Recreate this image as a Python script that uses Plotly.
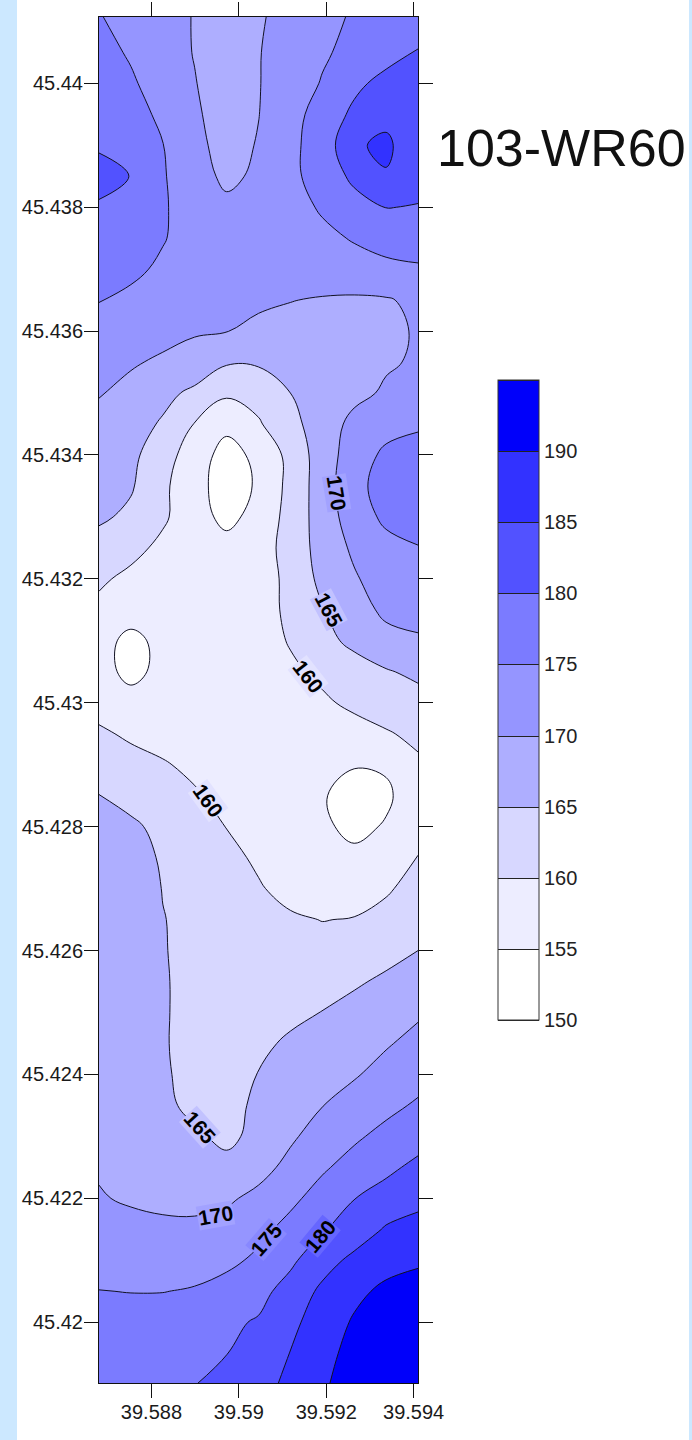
import plotly.graph_objects as go

# ---------------- data ----------------
x_vals = [39.5868, 39.58753, 39.58826, 39.58899, 39.58972, 39.59045,
          39.59118, 39.59191, 39.59264, 39.59337, 39.5941]

y_vals = [45.4190, 45.4195, 45.4200, 45.4205, 45.4210, 45.4215, 45.4220,
          45.4225, 45.4230, 45.4235, 45.4240, 45.4245, 45.4250, 45.4255,
          45.4260, 45.4265, 45.4270, 45.4275, 45.4280, 45.4285, 45.4290,
          45.4295, 45.4300, 45.4305, 45.4310, 45.4315, 45.4320, 45.4325,
          45.4330, 45.4335, 45.4340, 45.4345, 45.4350, 45.4355, 45.4360,
          45.4365, 45.4370, 45.4375, 45.4380, 45.4385, 45.4390, 45.4395,
          45.4400, 45.4405, 45.4411]

# rows from bottom (45.419) to top (45.4411), columns west -> east
z_vals = [
    [177.8, 178.3, 179.0, 179.9, 181.5, 183.6, 185.9, 189.4, 192.0, 194.0, 194.8],
    [177.2, 177.8, 178.5, 179.2, 179.9, 182.5, 185.1, 188.5, 191.5, 193.5, 194.3],
    [176.5, 176.8, 177.3, 178.0, 179.2, 180.4, 183.8, 187.4, 190.5, 192.5, 193.5],
    [175.1, 174.9, 174.9, 175.4, 176.8, 178.6, 181.8, 186.0, 188.9, 191.0, 192.0],
    [173.0, 172.8, 172.8, 173.0, 173.9, 175.9, 179.1, 183.0, 186.2, 188.3, 189.3],
    [171.5, 171.3, 170.9, 170.9, 171.8, 173.8, 176.4, 179.6, 182.2, 185.5, 187.3],
    [170.3, 169.5, 169.0, 168.8, 169.3, 171.2, 174.0, 176.8, 179.9, 182.0, 183.2],
    [169.6, 168.7, 167.7, 166.8, 166.0, 168.4, 171.3, 174.4, 176.7, 178.9, 181.2],
    [169.4, 168.3, 166.8, 165.5, 164.2, 166.0, 169.3, 172.0, 174.3, 176.3, 178.0],
    [169.2, 167.8, 165.7, 164.2, 163.8, 165.7, 167.8, 169.9, 171.8, 173.8, 175.6],
    [169.0, 167.5, 165.4, 164.0, 163.7, 165.1, 166.7, 168.3, 169.6, 171.5, 173.3],
    [168.8, 167.3, 165.2, 164.2, 163.9, 164.2, 165.6, 167.0, 168.5, 169.6, 171.3],
    [168.7, 167.3, 165.2, 164.3, 164.0, 163.8, 164.1, 165.1, 166.5, 168.0, 169.4],
    [168.5, 167.2, 165.2, 164.3, 163.8, 163.2, 162.8, 163.3, 164.4, 165.8, 167.5],
    [168.3, 167.0, 165.15, 164.2, 163.5, 162.6, 161.9, 161.5, 162.0, 163.5, 165.0],
    [168.3, 167.2, 165.1, 164.2, 163.2, 161.8, 160.6, 159.9, 160.2, 161.3, 163.0],
    [168.0, 167.0, 164.9, 163.7, 162.3, 160.4, 158.6, 157.9, 158.0, 159.5, 161.5],
    [167.5, 166.5, 164.6, 163.0, 161.2, 159.3, 158.0, 157.2, 156.3, 157.5, 160.1],
    [166.8, 165.8, 163.8, 162.0, 159.9, 158.3, 157.0, 156.0, 153.5, 155.5, 158.8],
    [165.1, 163.5, 162.0, 160.5, 158.7, 157.5, 156.5, 155.4, 153.0, 154.0, 158.5],
    [162.5, 161.5, 160.4, 159.0, 158.0, 157.3, 156.8, 156.3, 155.3, 155.7, 159.3],
    [160.7, 159.3, 158.3, 157.5, 157.2, 157.2, 157.5, 157.8, 158.5, 159.6, 161.0],
    [158.3, 157.0, 156.8, 157.0, 157.2, 157.8, 158.5, 159.4, 160.8, 162.2, 163.3],
    [157.0, 153.5, 156.5, 157.2, 157.5, 158.2, 159.3, 160.8, 162.8, 164.6, 166.0],
    [157.0, 153.5, 156.5, 157.0, 157.2, 158.2, 160.3, 163.5, 166.2, 168.5, 169.3],
    [158.8, 157.5, 157.0, 157.0, 157.0, 158.0, 161.0, 164.7, 168.0, 171.0, 172.0],
    [160.8, 158.8, 157.6, 157.3, 157.0, 157.8, 161.2, 166.3, 169.5, 172.3, 173.5],
    [163.0, 161.5, 158.8, 157.5, 156.5, 157.8, 161.8, 167.0, 170.8, 173.5, 174.8],
    [165.8, 164.0, 160.8, 156.8, 153.8, 156.5, 161.8, 167.3, 172.5, 176.0, 177.0],
    [166.8, 165.5, 161.0, 156.5, 153.0, 155.5, 161.5, 167.5, 173.5, 177.0, 178.0],
    [167.5, 166.0, 162.5, 157.0, 153.5, 156.0, 161.5, 167.5, 172.5, 176.0, 177.0],
    [168.5, 166.5, 164.6, 159.8, 156.0, 159.5, 163.5, 167.5, 171.3, 173.2, 174.3],
    [170.3, 168.7, 166.0, 164.2, 160.8, 161.8, 165.0, 167.0, 168.8, 170.6, 172.0],
    [172.5, 170.5, 169.3, 167.5, 165.5, 165.6, 166.8, 167.8, 168.5, 169.5, 170.5],
    [173.8, 172.5, 171.5, 170.6, 170.1, 169.2, 168.8, 168.5, 168.5, 169.0, 170.4],
    [175.1, 174.0, 172.8, 171.8, 171.0, 170.6, 170.1, 169.7, 169.4, 169.6, 171.0],
    [177.3, 176.0, 174.2, 172.8, 171.8, 171.5, 171.5, 172.2, 173.0, 174.0, 174.5],
    [178.6, 177.0, 175.3, 173.0, 171.5, 171.3, 172.3, 173.8, 175.4, 176.6, 177.0],
    [179.5, 177.8, 175.4, 173.2, 171.0, 171.0, 173.0, 175.6, 178.3, 180.1, 179.8],
    [181.5, 179.9, 175.4, 172.0, 169.0, 170.8, 173.8, 177.2, 181.0, 184.6, 181.5],
    [179.5, 177.3, 175.1, 171.3, 168.2, 170.3, 174.0, 177.0, 184.3, 186.0, 181.5],
    [178.3, 176.5, 174.2, 170.7, 167.8, 169.9, 173.3, 177.0, 181.0, 183.6, 182.0],
    [177.5, 175.6, 172.9, 170.2, 167.5, 169.8, 172.5, 175.3, 178.9, 181.5, 182.0],
    [176.5, 174.5, 172.0, 169.8, 167.5, 169.8, 172.0, 174.4, 176.3, 178.2, 180.1],
    [175.2, 173.3, 171.5, 169.8, 167.5, 169.5, 171.5, 173.5, 175.5, 177.5, 179.0],
]

levels_start, levels_end, levels_step = 150, 195, 5
band_colors = ['#FFFFFF', '#EDEDFF', '#D7D7FF', '#AEAEFF', '#9595FF',
               '#7B7BFF', '#5252FF', '#3232FF', '#0000FA']
cbar_ticks = [150, 155, 160, 165, 170, 175, 180, 185, 190]

x_ticks = [39.588, 39.590, 39.592, 39.594]
x_ticktext = ['39.588', '39.59', '39.592', '39.594']
y_ticks = [45.420, 45.422, 45.424, 45.426, 45.428, 45.430,
           45.432, 45.434, 45.436, 45.438, 45.440]
y_ticktext = ['45.42', '45.422', '45.424', '45.426', '45.428', '45.43',
              '45.432', '45.434', '45.436', '45.438', '45.44']

# contour labels: text, x, y, angle
label_text = ['170', '165', '160', '160', '165', '170', '175', '180']
label_x = [39.59223, 39.59205, 39.59159, 39.58930, 39.58911, 39.58946, 39.59063, 39.59186]
label_y = [45.43339, 45.43150, 45.43043, 45.42843, 45.42314, 45.42173, 45.42133, 45.42138]
label_angle = [81, 62, 52, 54, 48, -10, -49, -50]
label_bg = ['#A2A2FF', '#C2C2FF', '#E2E2FF', '#E2E2FF', '#C2C2FF', '#A2A2FF', '#8888FF', '#6666FF']

title_text = '103-WR60'

# ---------------- figure ----------------
FONT = 'Liberation Sans, Arial, sans-serif'

# fill colours for the map: contour fills are sampled at band mid-levels,
# over the domain [start - step/2, end + step/2]
zmin_f = levels_start - levels_step / 2
zmax_f = levels_end + levels_step / 2
span_f = zmax_f - zmin_f
fill_scale = [[0.0, band_colors[0]]]
for i, c in enumerate(band_colors):
    lo = (levels_start + i * levels_step - zmin_f) / span_f
    hi = (levels_start + (i + 1) * levels_step - zmin_f) / span_f
    fill_scale.append([lo, c])
    fill_scale.append([hi, c])
fill_scale.append([1.0, band_colors[-1]])

# stepped scale for the colour bar over [start, end]
nb = len(band_colors)
bar_scale = []
for i, c in enumerate(band_colors):
    bar_scale.append([i / nb, c])
    bar_scale.append([(i + 1) / nb, c])

fig = go.Figure()
fig.add_trace(go.Contour(
    x=x_vals, y=y_vals, z=z_vals,
    zmin=zmin_f, zmax=zmax_f, zauto=False,
    colorscale=fill_scale, showscale=False,
    contours=dict(start=levels_start, end=levels_end, size=levels_step,
                  coloring='fill', showlines=True),
    line=dict(color='#111122', width=1, smoothing=1.1),
    hoverinfo='skip',
))

# same field, invisible, only used to draw the stepped colour bar 150-195
fig.add_trace(go.Contour(
    x=x_vals, y=y_vals, z=z_vals,
    zmin=levels_start, zmax=levels_end, zauto=False,
    colorscale=bar_scale, opacity=0,
    contours=dict(start=levels_start, end=levels_end, size=levels_step,
                  coloring='heatmap', showlines=True),
    line=dict(color='#222222', width=1),
    colorbar=dict(
        tickvals=cbar_ticks, ticks='', len=640, lenmode='pixels',
        thickness=41, thicknessmode='pixels',
        x=1.2498, xanchor='left', xpad=0, y=0.5, yanchor='middle', ypad=0,
        outlinewidth=1, outlinecolor='#333333',
        tickfont=dict(family=FONT, size=20, color='#222222'),
    ),
    hoverinfo='skip',
))

W, H = 692, 1440
L, R, T, B = 99, 274, 17, 57
pw = W - L - R

axis_common = dict(ticks='outside', ticklen=14, tickwidth=1, tickcolor='#111',
                   showline=True, linecolor='#111', linewidth=1, mirror='ticks',
                   showgrid=False, zeroline=False, automargin=False,
                   ticklabelstandoff=-3,
                   tickfont=dict(family=FONT, size=20, color='#1a1a1a'))

fig.update_layout(
    width=W, height=H,
    margin=dict(l=L, r=R, t=T, b=B, autoexpand=False),
    paper_bgcolor='white', plot_bgcolor='white',
    showlegend=False,
    font=dict(family=FONT, size=20, color='#1a1a1a'),
    xaxis=dict(range=[39.5868, 39.5941], tickvals=x_ticks, ticktext=x_ticktext,
               **axis_common),
    yaxis=dict(range=[45.41902, 45.44107], tickvals=y_ticks, ticktext=y_ticktext,
               **axis_common),
)

# page frame strips (light blue) on left and right
fig.add_shape(type='rect', xref='paper', yref='paper',
              x0=(0 - L) / pw, x1=(17 - L) / pw, y0=-0.1, y1=1.1,
              fillcolor='#CCE8FF', line=dict(width=0), layer='above')
fig.add_shape(type='rect', xref='paper', yref='paper',
              x0=(689 - L) / pw, x1=(700 - L) / pw, y0=-0.1, y1=1.1,
              fillcolor='#CCE8FF', line=dict(width=0), layer='above')

for t, lx, ly, ang, bg in zip(label_text, label_x, label_y, label_angle, label_bg):
    fig.add_annotation(x=lx, y=ly, xref='x', yref='y', text=t, showarrow=False,
                       textangle=ang, bgcolor=bg, borderpad=0,
                       font=dict(family=FONT, size=21, color='#000000', weight='bold'))

fig.add_annotation(x=(561 - L) / pw, y=1 - (148 - T) / (H - T - B),
                   xref='paper', yref='paper', text=title_text, showarrow=False,
                   xanchor='center', yanchor='middle',
                   font=dict(family=FONT, size=52, color='#111111'))

fig.write_html('out.html',
               config={'displayModeBar': False},
               post_script="document.body.style.margin='0';document.body.style.padding='0';")
